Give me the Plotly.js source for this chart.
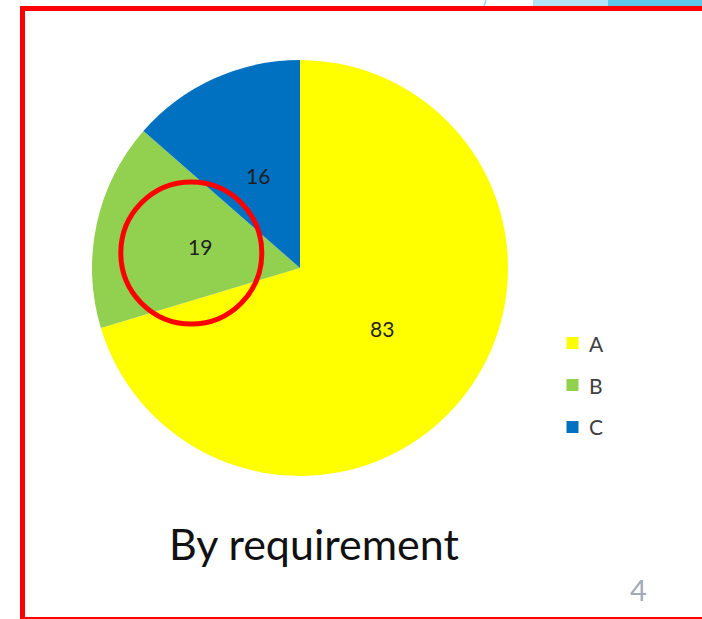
<!DOCTYPE html>
<html>
<head>
<meta charset="utf-8">
<script src="https://cdn.plot.ly/plotly-3.0.1.min.js"></script>
<style>
html,body{margin:0;padding:0;background:#fff;}
#chart{width:702px;height:619px;}
</style>
</head>
<body>
<div id="chart"></div>
<script>
// ---- data ----
const labels = ['A', 'B', 'C'];
const values = [83, 19, 16];
const colors = ['#FFFF00', '#92D050', '#0070C0'];
const chartTitle = 'By requirement';
const pageNumber = '4';

// ---- layout helpers ----
const W = 702, H = 619;
const px = x => x / W;
const py = y => 1 - y / H;
const cx = 300, cy = 268, R = 208;
const FONT = 'Lato, "Open Sans", sans-serif';

const trace = {
  type: 'pie',
  labels: labels,
  values: values,
  marker: {colors: colors, line: {width: 0}},
  sort: false,
  direction: 'clockwise',
  rotation: 0,
  textinfo: 'none',
  hoverinfo: 'label+value',
  showlegend: false,
  domain: {x: [px(cx - R), px(cx + R)], y: [py(cy + R), py(cy - R)]}
};

const annotations = [];
const shapes = [];

// value labels placed along each slice's bisector
const total = values.reduce((a, b) => a + b, 0);
let cum = 0;
values.forEach((v, i) => {
  const mid = (cum + v / 2) / total * 2 * Math.PI;
  cum += v;
  const r = 0.49 * R;
  annotations.push({
    xref: 'paper', yref: 'paper',
    x: px(cx + r * Math.sin(mid)), y: py(cy - r * Math.cos(mid)),
    text: String(v), showarrow: false,
    xanchor: 'center', yanchor: 'middle',
    font: {family: FONT, size: 21, color: '#1F1F1F'}
  });
});

// legend
labels.forEach((lab, i) => {
  const yc = 343 + i * 42;
  shapes.push({
    type: 'rect', xref: 'paper', yref: 'paper',
    x0: px(566.5), x1: px(578.5), y0: py(yc + 6), y1: py(yc - 6),
    fillcolor: colors[i], line: {width: 0}
  });
  annotations.push({
    xref: 'paper', yref: 'paper', x: px(587), y: py(yc),
    text: lab, showarrow: false, xanchor: 'left', yanchor: 'middle',
    font: {family: FONT, size: 21, color: '#404040'}
  });
});

// title below chart
annotations.push({
  xref: 'paper', yref: 'paper', x: px(314), y: py(543),
  text: chartTitle, showarrow: false, xanchor: 'center', yanchor: 'middle',
  font: {family: FONT, size: 43, color: '#111111'}
});
// page number
annotations.push({
  xref: 'paper', yref: 'paper', x: px(638), y: py(589),
  text: pageNumber, showarrow: false, xanchor: 'center', yanchor: 'middle',
  font: {family: FONT, size: 29, color: '#A2AAB8'}
});

// slide decoration at top right
shapes.push({type: 'rect', xref: 'paper', yref: 'paper', layer: 'below',
  x0: px(533), x1: px(608), y0: py(6), y1: py(0), fillcolor: '#B3E3F4', line: {width: 0}});
shapes.push({type: 'rect', xref: 'paper', yref: 'paper', layer: 'below',
  x0: px(608), x1: px(702), y0: py(6), y1: py(0), fillcolor: '#5EC6E9', line: {width: 0}});
shapes.push({type: 'line', xref: 'paper', yref: 'paper', layer: 'below',
  x0: px(484), x1: px(486), y0: py(6), y1: py(0), line: {color: '#9AD8F0', width: 1.5}});

// red highlight frame
shapes.push({type: 'rect', xref: 'paper', yref: 'paper',
  x0: px(22.5), x1: px(712), y0: py(619.5), y1: py(8.5),
  line: {color: '#FF0000', width: 5}, fillcolor: 'rgba(0,0,0,0)'});
// red circle annotation
shapes.push({type: 'circle', xref: 'paper', yref: 'paper',
  x0: px(191.3 - 70.5), x1: px(191.3 + 70.5), y0: py(253 + 71), y1: py(253 - 71),
  line: {color: '#FF0000', width: 5}, fillcolor: 'rgba(0,0,0,0)'});

const layout = {
  width: W, height: H,
  margin: {l: 0, r: 0, t: 0, b: 0},
  paper_bgcolor: '#FFFFFF',
  plot_bgcolor: '#FFFFFF',
  showlegend: false,
  annotations: annotations,
  shapes: shapes
};

Plotly.newPlot('chart', [trace], layout, {displayModeBar: false, staticPlot: true});
</script>
</body>
</html>
